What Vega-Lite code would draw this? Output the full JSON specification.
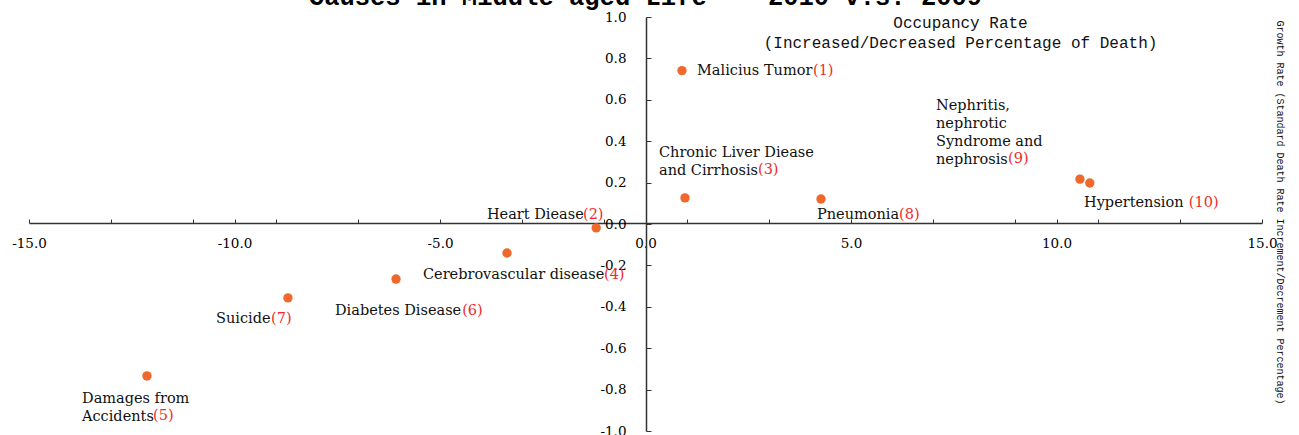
{
  "$schema": "https://vega.github.io/schema/vega-lite/v6.json",
  "width": 1233,
  "height": 414,
  "autosize": {"type": "none"},
  "padding": {"left": 29, "top": 17, "right": 37, "bottom": 4},
  "background": "white",
  "title": {
    "text": "Causes in Middle aged Life\u00a0\u00a0\u00a0\u00a02010 v.s. 2009",
    "font": "Liberation Mono",
    "fontSize": 25.5,
    "fontWeight": "bold",
    "color": "#000000",
    "anchor": "middle",
    "baseline": "alphabetic",
    "offset": 0,
    "dy": 20
  },
  "config": {
    "view": {"stroke": null},
    "axis": {"grid": false}
  },
  "data": {
    "values": [
      {"name": "Malicius Tumor", "num": "(1)", "x": 0.888, "y": 0.741, "lx": 1.253, "ly": 0.705, "nx": 4.075, "ny": 0.705},
      {"name": "Heart Diease", "num": "(2)", "x": -1.2, "y": -0.019, "lx": -3.857, "ly": 0.01, "nx": -1.521, "ny": 0.01},
      {"name": "Chronic Liver Diease\nand Cirrhosis", "num": "(3)", "x": 0.961, "y": 0.126, "lx": 0.328, "ly": 0.309, "nx": 2.737, "ny": 0.227},
      {"name": "Cerebrovascular disease", "num": "(4)", "x": -3.37, "y": -0.14, "lx": -5.414, "ly": -0.28, "nx": -1.01, "ny": -0.28},
      {"name": "Damages from\nAccidents", "num": "(5)", "x": -12.13, "y": -0.734, "lx": -13.71, "ly": -0.877, "nx": -11.98, "ny": -0.961},
      {"name": "Diabetes Disease", "num": "(6)", "x": -6.07, "y": -0.266, "lx": -7.555, "ly": -0.454, "nx": -4.46, "ny": -0.454},
      {"name": "Suicide", "num": "(7)", "x": -8.7, "y": -0.357, "lx": -10.45, "ly": -0.493, "nx": -9.112, "ny": -0.493},
      {"name": "Pneumonia", "num": "(8)", "x": 4.27, "y": 0.121, "lx": 4.173, "ly": 0.01, "nx": 6.168, "ny": 0.01},
      {"name": "Nephritis,\nnephrotic\nSyndrome and\nnephrosis", "num": "(9)", "x": 10.57, "y": 0.217, "lx": 7.068, "ly": 0.536, "nx": 8.82, "ny": 0.28},
      {"name": "Hypertension", "num": "(10)", "x": 10.81, "y": 0.198, "lx": 10.67, "ly": 0.07, "nx": 13.22, "ny": 0.07}
    ]
  },
  "layer": [
    {
      "mark": {"type": "point", "shape": "circle", "filled": true, "size": 88, "color": "#F0692C", "opacity": 1},
      "encoding": {
        "x": {
          "field": "x", "type": "quantitative",
          "scale": {"domain": [-15, 15], "nice": false, "zero": false},
          "axis": {
            "orient": "bottom",
            "offset": -208,
            "values": [-15, -13, -11, -10, -9, -7, -5, -3, -1, 0, 1, 3, 5, 7, 9, 10, 11, 13, 15],
            "labelExpr": "datum.value % 5 == 0 ? (datum.value < 0 ? '-' : '') + format(abs(datum.value), '.1f') : ''",
            "labelOverlap": false,
            "labelFlush": false,
            "labelFont": "DejaVu Serif",
            "labelFontSize": 13.5,
            "labelColor": "#000000",
            "labelBaseline": "top",
            "tickSize": -4,
            "labelPadding": 17,
            "tickColor": "#333333",
            "tickWidth": 1,
            "domainColor": "#333333",
            "domainWidth": 1.5,
            "title": ["Occupancy Rate", "(Increased/Decreased Percentage of Death)"],
            "titleFont": "Liberation Mono",
            "titleFontSize": 16,
            "titleFontWeight": "normal",
            "titleColor": "#111111",
            "titleLineHeight": 20,
            "titleAlign": "center",
            "titleBaseline": "middle",
            "titleX": 931,
            "titleY": -201
          }
        },
        "y": {
          "field": "y", "type": "quantitative",
          "scale": {"domain": [-1, 1], "nice": false, "zero": false},
          "axis": {
            "orient": "left",
            "offset": -617,
            "values": [-1, -0.9, -0.8, -0.7, -0.6, -0.5, -0.4, -0.3, -0.2, -0.1, 0, 0.1, 0.2, 0.3, 0.4, 0.5, 0.6, 0.7, 0.8, 0.9, 1],
            "labelExpr": "abs(round(datum.value * 10)) % 2 == 0 ? (datum.value < -0.01 ? '-' : '') + format(abs(datum.value), '.1f') : ''",
            "labelOverlap": false,
            "labelFlush": false,
            "labelFont": "DejaVu Serif",
            "labelFontSize": 13.5,
            "labelColor": "#000000",
            "tickSize": -5,
            "labelPadding": 25,
            "tickColor": "#333333",
            "tickWidth": 1,
            "domainColor": "#333333",
            "domainWidth": 1.5,
            "title": "Growth Rate (Standard Death Rate Increment/Decrement Percentage)",
            "titleFont": "Liberation Mono",
            "titleFontSize": 10,
            "titleFontWeight": "normal",
            "titleColor": "#111111",
            "titleAngle": 90,
            "titleAlign": "center",
            "titleBaseline": "middle",
            "titleX": 633,
            "titleY": 195
          }
        }
      }
    },
    {
      "mark": {"type": "text", "font": "DejaVu Serif", "fontSize": 14.5, "align": "left", "baseline": "bottom", "lineBreak": "\n", "lineHeight": 18, "color": "#111111"},
      "encoding": {
        "x": {"field": "lx", "type": "quantitative"},
        "y": {"field": "ly", "type": "quantitative"},
        "text": {"field": "name"}
      }
    },
    {
      "mark": {"type": "text", "font": "DejaVu Serif", "fontSize": 14.5, "align": "left", "baseline": "bottom", "color": "#F02A2A"},
      "encoding": {
        "x": {"field": "nx", "type": "quantitative"},
        "y": {"field": "ny", "type": "quantitative"},
        "text": {"field": "num"}
      }
    }
  ]
}
